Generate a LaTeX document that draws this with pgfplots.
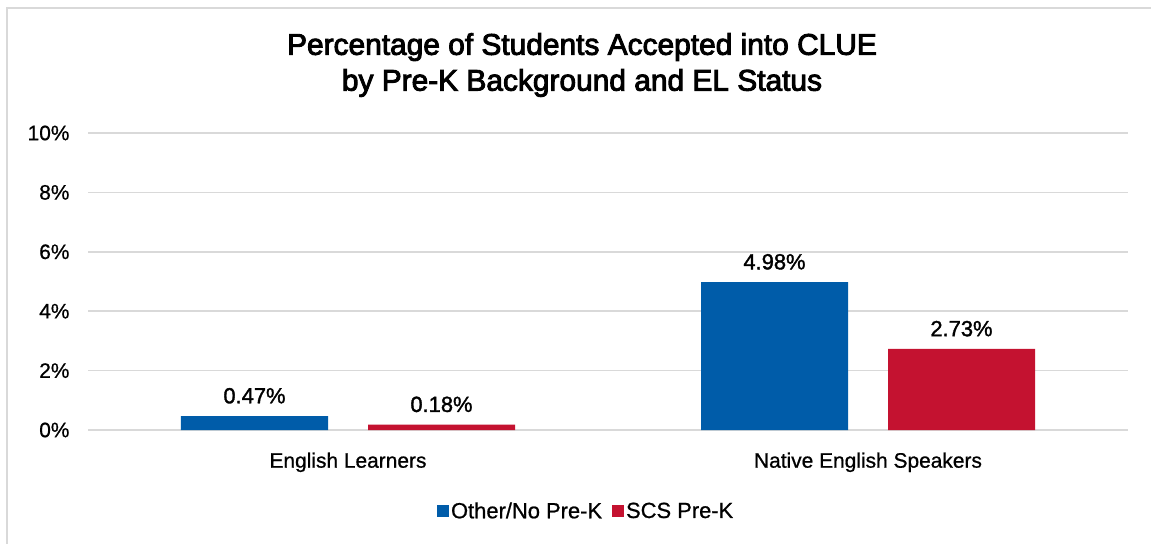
\documentclass[border=0pt]{standalone}
\usepackage{fontspec}
\setmainfont{Liberation Sans}[FakeBold=0.8]
\newfontfamily\titlefont{Liberation Sans}[FakeBold=3]
\newfontfamily\labelfont{Liberation Sans}[FakeBold=1.5]
\usepackage{pgfplots}
\pgfplotsset{compat=1.18}
\definecolor{cblue}{RGB}{0,92,169}
\definecolor{cred}{RGB}{196,18,48}
\definecolor{gridc}{RGB}{217,217,217}
\begin{document}
\begin{tikzpicture}[x=1bp,y=1bp]
\useasboundingbox (0,0) rectangle (1151,-544);
\draw[gridc, line width=2bp] (7,-544) -- (7,-8) -- (1151,-8);
\node[font=\titlefont\fontsize{30}{36}\selectfont, align=center] at (582,-65) {Percentage of Students Accepted into CLUE\\by Pre-K Background and EL Status};
\begin{axis}[
  at={(88bp,-430bp)}, anchor=south west, scale only axis,
  width=1040bp, height=297bp,
  ybar=40bp, bar width=147bp,
  xmin=-0.5, xmax=1.5, ymin=0, ymax=10,
  xtick=data, xticklabels={English Learners, Native English Speakers},
  ytick={0,2,...,10},
  yticklabel={\pgfmathprintnumber{\tick}\%},
  /pgf/number format/assume math mode=true,
  ymajorgrids, grid style={gridc, line width=1.5bp},
  axis line style={draw=none}, major tick length=0,
  tick label style={font=\fontsize{21}{22}\selectfont},
  yticklabel style={xshift=-15bp},
  xticklabel style={yshift=-19bp},
  point meta=y,
  nodes near coords={\pgfmathprintnumber[fixed, precision=2, fixed zerofill]{\pgfplotspointmeta}\%},
  nodes near coords style={font=\labelfont\fontsize{22}{24}\selectfont, yshift=9bp, /pgf/number format/assume math mode=true},
  legend style={at={(0.479,-0.273)}, anchor=center, legend columns=2, draw=none,
    font=\fontsize{22}{24}\selectfont, /tikz/every even column/.append style={column sep=8bp}},
  legend image code/.code={\fill[#1] (0bp,-6bp) rectangle (12bp,6bp);},
]
\addplot[fill=cblue, draw=none] coordinates {(0,0.47) (1,4.98)};
\addplot[fill=cred, draw=none] coordinates {(0,0.18) (1,2.73)};
\legend{Other/No Pre-K, SCS Pre-K}
\end{axis}
\end{tikzpicture}
\end{document}
